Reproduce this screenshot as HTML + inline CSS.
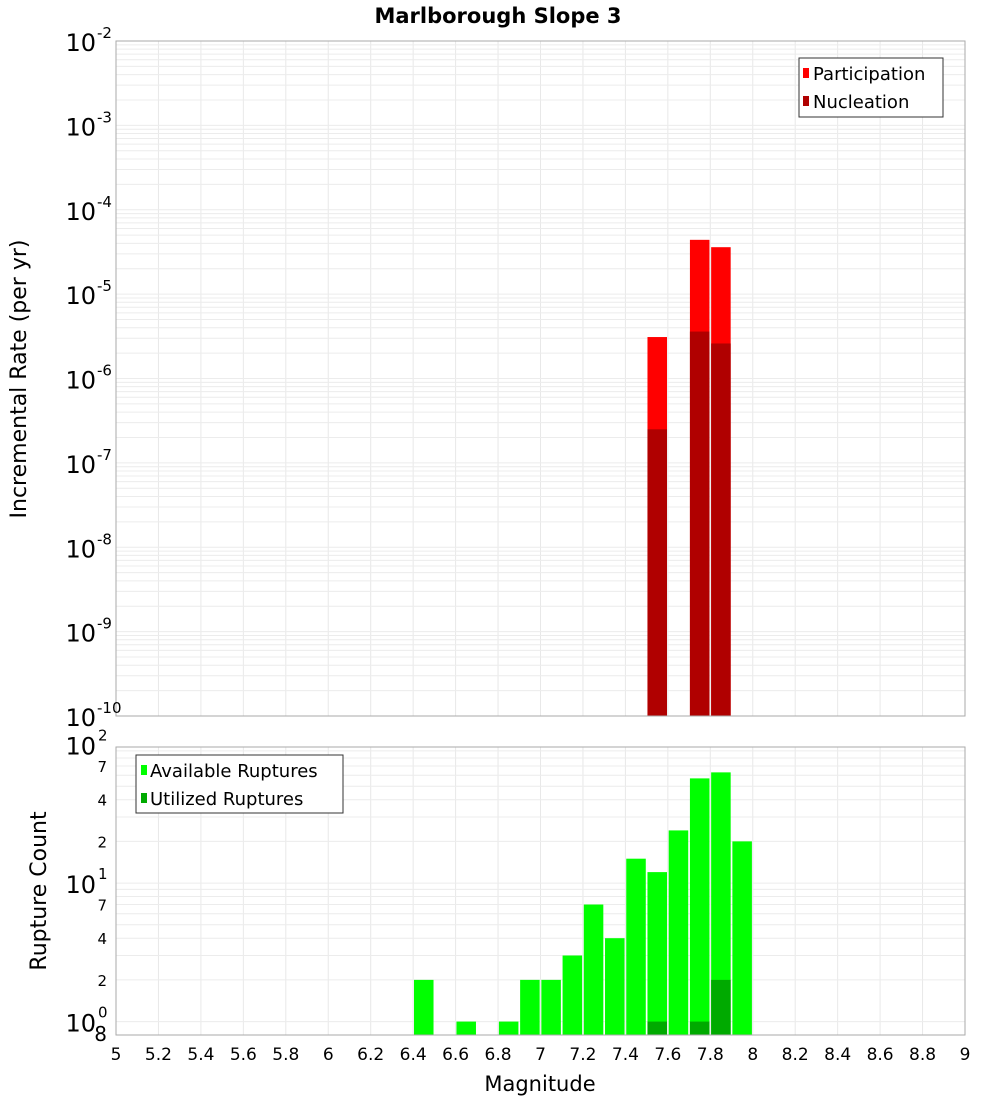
<!DOCTYPE html>
<html><head><meta charset="utf-8"><style>
body{margin:0;background:#fff;}
svg text{font-family:"DejaVu Sans","Liberation Sans",sans-serif;}
</style></head><body>
<svg id="chart" width="1000" height="1100" xmlns="http://www.w3.org/2000/svg">
<rect x="0" y="0" width="1000" height="1100" fill="#fff"/>
<text x="498" y="23" text-anchor="middle" font-size="21" font-weight="bold">Marlborough Slope 3</text>
<g id="grid"></g>
<g id="bars"></g>
<rect x="116" y="41" width="849" height="675" fill="none" stroke="#aaa"/>
<rect x="116" y="747" width="849" height="288" fill="none" stroke="#aaa"/>
<g id="axes"></g>
<text transform="translate(26,379) rotate(-90)" text-anchor="middle" font-size="22">Incremental Rate (per yr)</text>
<text transform="translate(46,891) rotate(-90)" text-anchor="middle" font-size="22">Rupture Count</text>
<text x="540" y="1091" text-anchor="middle" font-size="21">Magnitude</text>
<g>
<rect x="799" y="58" width="144" height="59" fill="#fff" stroke="#333"/>
<rect x="803" y="68" width="6" height="10" fill="#ff0000"/>
<text x="813" y="80" font-size="18">Participation</text>
<rect x="803" y="96" width="6" height="10" fill="#b00000"/>
<text x="813" y="108" font-size="18">Nucleation</text>
</g>
<g>
<rect x="136" y="755" width="207" height="58" fill="#fff" stroke="#333"/>
<rect x="141" y="765" width="6" height="10" fill="#00ff00"/>
<text x="150" y="777" font-size="18">Available Ruptures</text>
<rect x="141" y="793" width="6" height="10" fill="#00aa00"/>
<text x="150" y="805" font-size="18">Utilized Ruptures</text>
</g>
</svg>
<script>
const rateMags=[7.55,7.75,7.85];
const participation=[3.1e-6,4.4e-5,3.6e-5];
const nucleation=[2.5e-7,3.6e-6,2.6e-6];
const countMags=[6.45,6.65,6.85,6.95,7.05,7.15,7.25,7.35,7.45,7.55,7.65,7.75,7.85,7.95];
const available=[2,1,1,2,2,3,7,4,15,12,24,57,63,20];
const utilizedMags=[7.55,7.75,7.85];
const utilized=[1,1,2];
const xTicks=[5,5.2,5.4,5.6,5.8,6,6.2,6.4,6.6,6.8,7,7.2,7.4,7.6,7.8,8,8.2,8.4,8.6,8.8,9];
const xTickLabels=["5","5.2","5.4","5.6","5.8","6","6.2","6.4","6.6","6.8","7","7.2","7.4","7.6","7.8","8","8.2","8.4","8.6","8.8","9"];
const topExps=[-2,-3,-4,-5,-6,-7,-8,-9,-10];

const NS="http://www.w3.org/2000/svg";
const X0=116,X1=965,XMIN=5,XMAX=9;
const xs=m=>X0+(m-XMIN)/(XMAX-XMIN)*(X1-X0);
const TY0=41,TY1=716;
const ty=v=>TY0+(-2-Math.log10(v))/8*(TY1-TY0);
const BY1=1035,BLMIN=Math.log10(0.8),BDEC=138.5;
const by=v=>BY1-(Math.log10(v)-BLMIN)*BDEC;
function mk(tag,attrs,parent){const e=document.createElementNS(NS,tag);for(const k in attrs)e.setAttribute(k,attrs[k]);parent.appendChild(e);return e;}
const grid=document.getElementById('grid'),bars=document.getElementById('bars'),axes=document.getElementById('axes');
// vertical grid
xTicks.forEach(t=>{
 const l1=mk('line',{x1:xs(t),x2:xs(t),y1:TY0,y2:TY1,stroke:'#e8e8e8'},grid);
 
 
 const l2=mk('line',{x1:xs(t),x2:xs(t),y1:747,y2:BY1,stroke:'#e8e8e8'},grid);
 
 
});
// top horizontal grid
for(let e=-10;e<-2;e++){for(let k=1;k<10;k++){const y=ty(k*Math.pow(10,e));
 const l=mk('line',{x1:X0,x2:X1,y1:y,y2:y,stroke:'#ececec'},grid);
 
 }}
// bottom horizontal grid
for(const d of [1,10]){for(let k=1;k<10;k++){const y=by(k*d);
 const l=mk('line',{x1:X0,x2:X1,y1:y,y2:y,stroke:'#ececec'},grid);
 
 }}
const bw=(xs(0.1)-xs(0))*0.92;
function bar(m,v,yf,base,color,name){
 const x=xs(m)-bw/2,y=yf(v);
 const r=mk('rect',{x:x,y:y,width:bw,height:base-y,fill:color},bars);
 
 
}
rateMags.forEach((m,i)=>bar(m,participation[i],ty,TY1,'#ff0000','participation-bar'));
rateMags.forEach((m,i)=>bar(m,nucleation[i],ty,TY1,'#b00000','nucleation-bar'));
countMags.forEach((m,i)=>bar(m,available[i],by,BY1,'#00ff00','available-bar'));
utilizedMags.forEach((m,i)=>bar(m,utilized[i],by,BY1,'#00aa00','utilized-bar'));
// x tick labels
xTicks.forEach((t,i)=>{
 const tx=mk('text',{x:xs(t),y:1060,'text-anchor':'middle','font-size':17},axes);
 tx.textContent=xTickLabels[i];
 
 
});
// top y labels
topExps.forEach(e=>{
 const y=ty(Math.pow(10,e));
 const t=mk('text',{x:96,y:y+10,'text-anchor':'end','font-size':24},axes);
 t.textContent='10';
 
 
 const s=mk('text',{x:97,y:y-3,'font-size':15},axes);
 s.textContent=String(e);
 
 
});
// bottom y labels
[[100,'2'],[10,'1'],[1,'0']].forEach(([v,e])=>{
 const y=by(v);
 const t=mk('text',{x:96,y:y+10,'text-anchor':'end','font-size':24},axes);
 t.textContent='10';
 
 
 const s=mk('text',{x:98,y:y-4,'font-size':15},axes);
 s.textContent=e;
 
 
});
[[70,'7'],[40,'4'],[20,'2'],[7,'7'],[4,'4'],[2,'2'],[0.8,'8']].forEach(([v,l])=>{
 const y=by(v);
 const t=mk('text',{x:107,y:y+6,'text-anchor':'end','font-size':v===0.8?20:15},axes);
 t.textContent=l;
 
 
});
</script>
</body></html>
